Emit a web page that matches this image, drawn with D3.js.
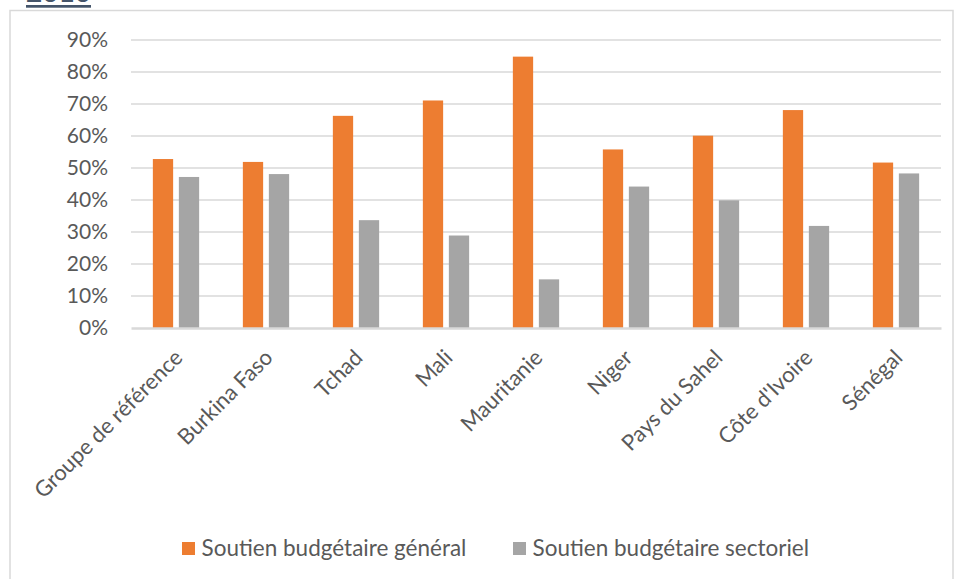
<!DOCTYPE html>
<html>
<head>
<meta charset="utf-8">
<script src="https://cdn.jsdelivr.net/npm/d3@7"></script>
<style>
  html, body { margin: 0; padding: 0; background: #fff; }
  svg { display: block; font-family: "Lato", "Open Sans", sans-serif; }
</style>
</head>
<body>
<div id="chart"></div>
<script>
// Data
const categories = ["Groupe de référence", "Burkina Faso", "Tchad", "Mali", "Mauritanie",
                    "Niger", "Pays du Sahel", "Côte d'Ivoire", "Sénégal"];
const seriesNames = ["Soutien budgétaire général", "Soutien budgétaire sectoriel"];
const generalValues = [0.528, 0.519, 0.663, 0.711, 0.848, 0.558, 0.601, 0.681, 0.517];
const sectorValues  = [0.472, 0.481, 0.337, 0.289, 0.152, 0.442, 0.399, 0.319, 0.483];
const yTicks = [0, 0.1, 0.2, 0.3, 0.4, 0.5, 0.6, 0.7, 0.8, 0.9];
const colors = ["#ED7D31", "#A5A5A5"];

function createChart() {
    const W = 955, H = 579;
    // plot area
    const plot = {left: 131, right: 941, top: 40, bottom: 328};

    d3.select("#chart").selectAll("*").remove();

    const svg = d3.select("#chart")
        .append("svg")
        .attr("width", W)
        .attr("height", H);

    // Chart frame
    svg.append("rect")
        .attr("x", 10)
        .attr("y", 10.5)
        .attr("width", 943)
        .attr("height", 620)
        .attr("fill", "none")
        .attr("stroke", "#d9d9d9")
        .attr("stroke-width", 1.5);

    // Heading cut off at the top of the picture
    svg.append("text")
        .attr("x", 26)
        .attr("y", 2)
        .style("font-size", "28px")
        .style("font-weight", "bold")
        .style("fill", "#44546A")
        .text("2010");
    svg.append("rect")
        .attr("x", 26)
        .attr("y", 5)
        .attr("width", 65)
        .attr("height", 2.7)
        .attr("fill", "#44546A");

    // Scales
    const x = d3.scaleBand()
        .domain(categories)
        .range([plot.left, plot.right])
        .paddingInner(0)
        .paddingOuter(0);

    const xInner = d3.scaleBand()
        .domain(seriesNames)
        .range([0, x.bandwidth()])
        .paddingInner(0.22)
        .paddingOuter(0.84);

    const y = d3.scaleLinear()
        .domain([0, 0.9])
        .range([plot.bottom, plot.top]);

    // Grid lines
    svg.append("g")
        .attr("class", "grid")
        .selectAll("line")
        .data(yTicks.slice(1))
        .enter()
        .append("line")
        .attr("x1", plot.left)
        .attr("x2", plot.right)
        .attr("y1", d => y(d))
        .attr("y2", d => y(d))
        .attr("stroke", "#d9d9d9")
        .attr("stroke-width", 1.4);

    // Y axis labels
    const yAxis = svg.append("g")
        .attr("transform", `translate(${plot.left},0)`)
        .call(d3.axisLeft(y)
            .tickValues(yTicks)
            .tickFormat(d3.format(".0%"))
            .tickSize(0)
            .tickPadding(23));
    yAxis.select(".domain").remove();
    yAxis.selectAll("text")
        .style("font-family", "Lato, 'Open Sans', sans-serif")
        .style("font-size", "21px")
        .style("fill", "#595959");

    // Bars
    const rows = categories.map((c, i) => ({
        cat: c,
        vals: [
            {name: seriesNames[0], v: generalValues[i], color: colors[0]},
            {name: seriesNames[1], v: sectorValues[i], color: colors[1]}
        ]
    }));

    const groups = svg.append("g")
        .selectAll("g")
        .data(rows)
        .enter()
        .append("g")
        .attr("transform", d => `translate(${x(d.cat)},0)`);

    groups.selectAll("rect")
        .data(d => d.vals)
        .enter()
        .append("rect")
        .attr("x", d => xInner(d.name))
        .attr("width", xInner.bandwidth())
        .attr("y", d => y(d.v))
        .attr("height", d => y(0) - y(d.v))
        .attr("fill", d => d.color);

    // X axis
    const xAxis = svg.append("g")
        .attr("transform", `translate(0,${plot.bottom})`)
        .call(d3.axisBottom(x).tickSize(0).tickPadding(0));
    xAxis.select(".domain")
        .attr("stroke", "#d9d9d9")
        .attr("stroke-width", 2.5);
    xAxis.selectAll(".tick text")
        .attr("text-anchor", "end")
        .attr("dy", 0)
        .attr("transform", "translate(8,31) rotate(-45)")
        .style("font-family", "Lato, 'Open Sans', sans-serif")
        .style("font-size", "22px")
        .style("fill", "#595959");

    // Legend
    const legendItems = [
        {name: seriesNames[0], color: colors[0], x: 182},
        {name: seriesNames[1], color: colors[1], x: 513}
    ];
    const legend = svg.append("g")
        .selectAll("g")
        .data(legendItems)
        .enter()
        .append("g")
        .attr("transform", d => `translate(${d.x},542)`);
    legend.append("rect")
        .attr("width", 13)
        .attr("height", 13)
        .attr("fill", d => d.color);
    legend.append("text")
        .attr("x", 19.5)
        .attr("y", 6.5)
        .attr("dy", "0.35em")
        .style("font-size", "22.5px")
        .style("fill", "#595959")
        .text(d => d.name);
}

createChart();
</script>
</body>
</html>
